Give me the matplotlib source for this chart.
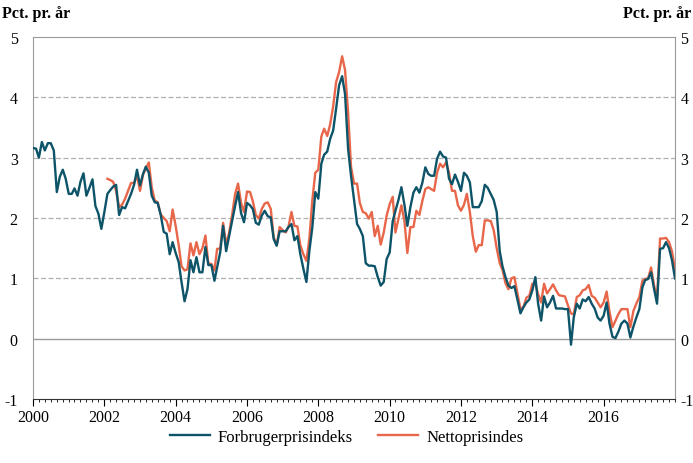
import numpy as np
import pandas as pd
import matplotlib
matplotlib.use("Agg")
import matplotlib.pyplot as plt
import matplotlib.dates as mdates

plt.rcParams['font.family'] = ['Liberation Serif', 'DejaVu Serif']
plt.rcParams['axes.unicode_minus'] = False

# Forbrugerprisindeks, monthly, Jan 2000 - Jan 2018 (pct. y/y)
cpi = [
    3.16, 3.15, 3.00, 3.26, 3.12, 3.24, 3.24, 3.12, 2.43, 2.68, 2.80, 2.65,  # 2000
    2.40, 2.40, 2.49, 2.37, 2.60, 2.74, 2.37, 2.50, 2.64, 2.20, 2.07, 1.82,  # 2001
    2.10, 2.40, 2.46, 2.52, 2.55, 2.05, 2.18, 2.16, 2.28, 2.40, 2.55, 2.80,  # 2002
    2.54, 2.73, 2.85, 2.75, 2.37, 2.26, 2.25, 2.05, 1.77, 1.74, 1.40, 1.60,  # 2003
    1.42, 1.27, 0.94, 0.62, 0.82, 1.30, 1.10, 1.35, 1.10, 1.10, 1.52, 1.22,  # 2004
    1.22, 0.96, 1.18, 1.43, 1.87, 1.45, 1.70, 1.95, 2.20, 2.43, 2.08, 1.93,  # 2005
    2.25, 2.21, 2.15, 1.92, 1.89, 2.04, 2.12, 2.03, 2.01, 1.65, 1.54, 1.78,  # 2006
    1.78, 1.78, 1.85, 1.90, 1.63, 1.70, 1.40, 1.16, 0.94, 1.45, 1.85, 2.43,  # 2007
    2.32, 2.90, 3.05, 3.10, 3.31, 3.45, 3.81, 4.20, 4.35, 4.05, 3.15, 2.70,  # 2008
    2.30, 1.90, 1.82, 1.70, 1.25, 1.21, 1.21, 1.20, 1.02, 0.88, 0.94, 1.32,  # 2009
    1.43, 1.95, 2.12, 2.30, 2.51, 2.22, 1.87, 2.18, 2.42, 2.51, 2.42, 2.58,  # 2010
    2.84, 2.73, 2.70, 2.70, 2.98, 3.10, 3.02, 3.00, 2.65, 2.56, 2.72, 2.60,  # 2011
    2.45, 2.75, 2.70, 2.59, 2.18, 2.18, 2.18, 2.28, 2.55, 2.50, 2.40, 2.30,  # 2012
    2.10, 1.45, 1.20, 1.02, 0.88, 0.84, 0.87, 0.65, 0.42, 0.52, 0.60, 0.65,  # 2013
    0.80, 1.02, 0.58, 0.30, 0.70, 0.52, 0.60, 0.71, 0.50, 0.50, 0.50, 0.49,  # 2014
    0.49, -0.10, 0.35, 0.58, 0.50, 0.65, 0.62, 0.69, 0.58, 0.50, 0.35, 0.30,  # 2015
    0.38, 0.60, 0.25, 0.03, 0.01, 0.12, 0.25, 0.30, 0.25, 0.02, 0.20, 0.35,  # 2016
    0.49, 0.85, 0.97, 0.99, 1.10, 0.82, 0.58, 1.49, 1.50, 1.60, 1.50, 1.30,  # 2017
    1.00,
]

# Nettoprisindeks, monthly, Feb 2002 - Jan 2018
netto = [
    2.65, 2.63, 2.60, 2.45, 2.18, 2.22, 2.32, 2.45, 2.58, 2.58, 2.70,        # 2002
    2.45, 2.72, 2.82, 2.92, 2.51, 2.29, 2.26, 2.06, 2.00, 1.95, 1.78, 2.14,  # 2003
    1.87, 1.55, 1.20, 1.13, 1.15, 1.58, 1.38, 1.60, 1.40, 1.50, 1.71, 1.24,  # 2004
    1.24, 1.13, 1.49, 1.49, 1.92, 1.56, 1.75, 2.05, 2.40, 2.57, 2.25, 2.10,  # 2005
    2.44, 2.43, 2.28, 2.05, 1.99, 2.15, 2.24, 2.26, 2.15, 1.68, 1.55, 1.85,  # 2006
    1.80, 1.76, 1.85, 2.10, 1.87, 1.86, 1.55, 1.40, 1.29, 1.65, 2.30, 2.75,  # 2007
    2.80, 3.35, 3.48, 3.36, 3.55, 3.85, 4.25, 4.42, 4.68, 4.45, 3.75, 2.85,  # 2008
    2.57, 2.57, 2.25, 2.10, 2.08, 1.99, 2.10, 1.70, 1.87, 1.56, 1.76, 2.04,  # 2009
    2.23, 2.35, 1.76, 1.99, 2.21, 1.95, 1.42, 1.85, 1.85, 2.12, 2.05, 2.28,  # 2010
    2.48, 2.51, 2.48, 2.45, 2.75, 2.90, 2.84, 2.92, 2.75, 2.45, 2.45, 2.21,  # 2011
    2.12, 2.22, 2.40, 2.10, 1.70, 1.44, 1.55, 1.55, 1.96, 1.96, 1.95, 1.80,  # 2012
    1.50, 1.25, 1.14, 0.92, 0.82, 1.00, 1.02, 0.75, 0.49, 0.52, 0.68, 0.71,  # 2013
    0.91, 0.91, 0.74, 0.60, 0.91, 0.75, 0.82, 0.90, 0.80, 0.72, 0.71, 0.70,  # 2014
    0.55, 0.42, 0.40, 0.69, 0.72, 0.80, 0.82, 0.89, 0.71, 0.68, 0.60, 0.52,  # 2015
    0.60, 0.78, 0.45, 0.19, 0.30, 0.41, 0.49, 0.49, 0.49, 0.19, 0.46, 0.58,  # 2016
    0.69, 0.96, 0.99, 1.00, 1.18, 0.88, 0.66, 1.66, 1.66, 1.67, 1.60, 1.45,  # 2017
    1.15,
]

cpi_dates = pd.date_range('2000-01-01', periods=len(cpi), freq='MS')
netto_dates = pd.date_range('2002-02-01', periods=len(netto), freq='MS')

labels = ['Forbrugerprisindeks', 'Nettoprisindes']
colors = ['#0d5468', '#e8674a']
yticks = [-1, 0, 1, 2, 3, 4, 5]
xtick_years = list(range(2000, 2017, 2))

fig = plt.figure(figsize=(6.93, 4.64), dpi=100)
ax = fig.add_axes([33/693, 1-400/464, (675-33)/693, (400-38)/464])

ax.plot(cpi_dates, cpi, color=colors[0], lw=1.7, label=labels[0], zorder=3)
ax.plot(netto_dates, netto, color=colors[1], lw=1.7, label=labels[1], zorder=2)

ax.set_ylim(-1, 5)
ax.set_xlim(pd.Timestamp('2000-01-01'), pd.Timestamp('2018-01-01'))

# gridlines
for v in yticks[2:-1]:
    ax.axhline(v, color='#b0b0b0', lw=0.9, ls=(0, (4, 2)), zorder=1)
ax.axhline(0, color='#9a9a9a', lw=1.0, zorder=1)

for s in ['left', 'right', 'top']:
    ax.spines[s].set_color('#9a9a9a')
ax.spines['bottom'].set_color('#333333')

ax.set_yticks(yticks)
ax.tick_params(axis='y', length=0, labelsize=11.5, pad=11)

# right-hand labels
ax2 = ax.twinx()
ax2.set_ylim(ax.get_ylim())
ax2.set_yticks(yticks)
ax2.tick_params(axis='y', length=0, labelsize=11.5, pad=4)
for s in ax2.spines.values():
    s.set_visible(False)

ax.set_xticks([pd.Timestamp(f'{y}-01-01') for y in xtick_years])
ax.xaxis.set_minor_locator(mdates.MonthLocator(bymonth=[1, 3, 5, 7, 9, 11]))
ax.xaxis.set_major_formatter(mdates.DateFormatter('%Y'))
ax.tick_params(axis='x', which='major', length=5, direction='out', labelsize=11.5, pad=2)
ax.tick_params(axis='x', which='minor', length=2.5, direction='out')

fig.text(2/693, 1-14/464, 'Pct. pr. år', fontsize=11.5, fontweight='bold', va='center', ha='left')
fig.text(691/693, 1-14/464, 'Pct. pr. år', fontsize=11.5, fontweight='bold', va='center', ha='right')

fig.legend(loc='center', bbox_to_anchor=(0.5, 1-438/464), ncol=2, frameon=False,
           fontsize=12, handlelength=2.4, columnspacing=1.5, handletextpad=0.5)

fig.savefig('out.png', dpi=100)
